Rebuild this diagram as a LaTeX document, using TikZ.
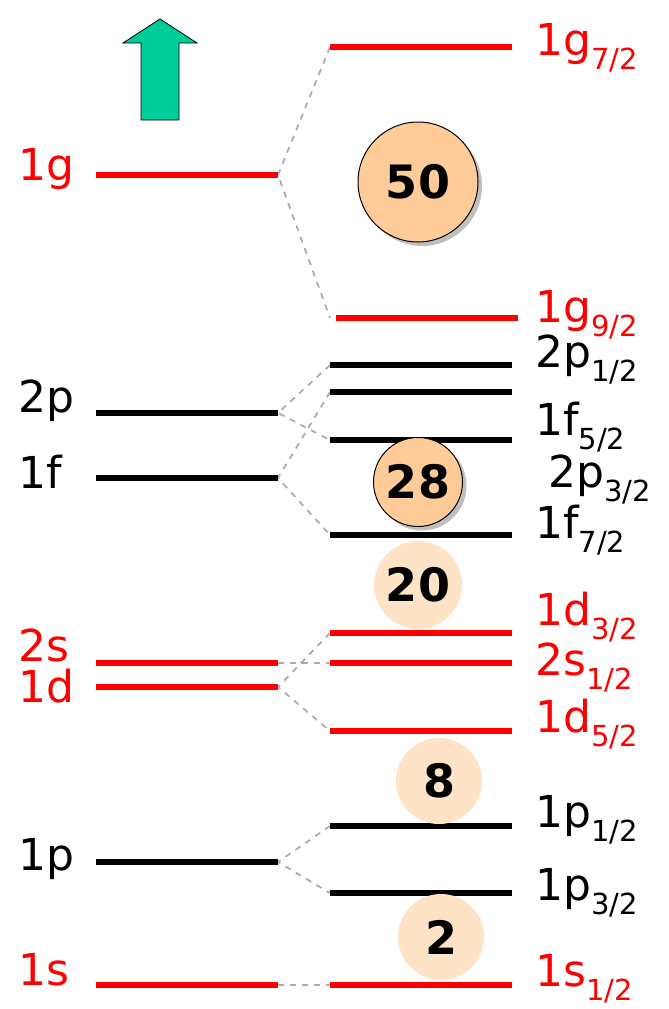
\documentclass[tikz,border=0pt]{standalone}
\usepackage{fontspec}
\setmainfont{DejaVu Sans}
\usetikzlibrary{shadows}
\definecolor{lvlred}{RGB}{255,0,0}
\definecolor{peach}{RGB}{255,204,153}
\definecolor{upgreen}{RGB}{0,204,153}
\newcommand{\jj}[1]{\raisebox{-0.33em}{\fontsize{29}{29}\selectfont#1}}

\tikzset{
	shell/.style={line width=6pt},
	split/.style={gray!65, line width=1.8pt, dash pattern=on 6pt off 6pt},
	lab/.style={anchor=base west, inner sep=0pt, font=\fontsize{44}{44}\selectfont},
	magic/.style={circle, fill=peach, inner sep=0pt, font=\fontsize{46}{46}\selectfont\bfseries},
}

\begin{document}
\begin{tikzpicture}[x=1pt, y=-1pt]
				\useasboundingbox (0,0) rectangle (669,1009);
				% unsplit levels (left)
				\foreach \n/\y/\c in {g/175/lvlred, p2/413/black, f/478/black, s2/663/lvlred,
					d/687/lvlred, p1/862/black, s1/985/lvlred}{
					\coordinate (\n-w) at (96,\y);
					\coordinate (\n-e) at (278,\y);
				}
				% split levels (right)
				\foreach \n/\y in {gs/47, gn/318, pa/365, pb/392, fa/440, fb/535, da/633,
					sa/663, db/731, pc/826, pd/893, sb/985}{
					\coordinate (\n-w) at (330,\y);
					\coordinate (\n-e) at (512,\y);
				}
				\draw[split] (gs-w)--(g-e)--(gn-w);
				\draw[split] (pa-w)--(p2-e)--(fa-w);
				\draw[split] (pb-w)--(f-e)--(fb-w);
				\draw[split] (s2-e)--(sa-w);
				\draw[split] (da-w)--(d-e)--(db-w);
				\draw[split] (pc-w)--(p1-e)--(pd-w);
				\draw[split] (s1-e)--(sb-w);
				\foreach \n/\c in {g/lvlred, p2/black, f/black, s2/lvlred, d/lvlred, p1/black, s1/lvlred,
					gs/lvlred, pa/black, pb/black, fa/black, fb/black, da/lvlred, sa/lvlred,
					db/lvlred, pc/black, pd/black, sb/lvlred}
					\draw[shell,\c] (\n-w)--(\n-e);
				\draw[shell,lvlred] ([xshift=6pt]gn-w)--([xshift=6pt]gn-e);
				% labels
				\node[lab,lvlred] (lg) at (18,180) {1g};
				\node[lab] (lp2) at (18,412) {2p};
				\node[lab] (lf) at (18,488) {1f};
				\node[lab,lvlred] (ls2) at (18,661) {2s};
				\node[lab,lvlred] (ld) at (18,702) {1d};
				\node[lab] (lp1) at (18,870) {1p};
				\node[lab,lvlred] (ls1) at (18,985) {1s};
				\node[lab,lvlred] (rgs) at (535,55) {1g\jj{7/2}};
				\node[lab,lvlred] (rgn) at (535,322) {1g\jj{9/2}};
				\node[lab] (rpa) at (535,367) {2p\jj{1/2}};
				\node[lab] (rfa) at (535,435) {1f\jj{5/2}};
				\node[lab] (rpb) at (548,487) {2p\jj{3/2}};
				\node[lab] (rfb) at (535,538) {1f\jj{7/2}};
				\node[lab,lvlred] (rda) at (535,625) {1d\jj{3/2}};
				\node[lab,lvlred] (rsa) at (535,675) {2s\jj{1/2}};
				\node[lab,lvlred] (rdb) at (535,732) {1d\jj{5/2}};
				\node[lab] (rpc) at (535,827) {1p\jj{1/2}};
				\node[lab] (rpd) at (535,900) {1p\jj{3/2}};
				\node[lab,lvlred] (rsb) at (535,986) {1s\jj{1/2}};
				% magic numbers
				\node[magic, draw, line width=1pt, minimum size=120pt,
					drop shadow={shadow xshift=4pt, shadow yshift=-4pt, fill=gray}] (m50) at (418,182) {50};
				\node[magic, draw, line width=1pt, minimum size=89pt,
					drop shadow={shadow xshift=4pt, shadow yshift=-4pt, fill=gray}] (m28) at (418,482) {28};
				\node[magic, fill=peach!55, minimum size=88pt] (m20) at (418,585) {20};
				\node[magic, fill=peach!55, minimum size=86pt] (m8) at (439,781) {8};
				\node[magic, fill=peach!55, minimum size=86pt] (m2) at (441,937) {2};
				% arrow
				\filldraw[fill=upgreen, line width=0.8pt] (141,120)--(141,43)--(123,43)--(160,19)
					--(197,43)--(179,43)--(179,120)--cycle;
			\end{tikzpicture}
\end{document}
